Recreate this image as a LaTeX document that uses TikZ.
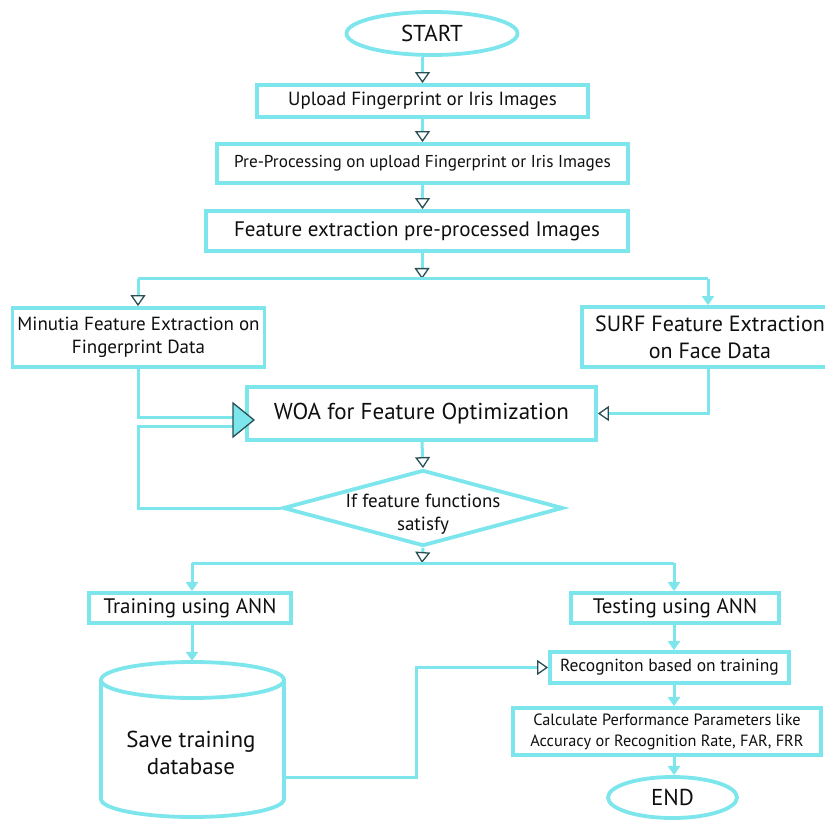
\documentclass[tikz,border=0pt]{standalone}
\usepackage{fontspec}
\setmainfont{PT Sans}
\usetikzlibrary{arrows.meta,shapes.geometric}
\definecolor{cy}{RGB}{124,230,236}
\definecolor{tipc}{RGB}{40,80,85}
\definecolor{txtc}{RGB}{15,15,15}
\newcommand{\fsz}[2]{\fontsize{#1}{#2}\selectfont}
\begin{document}
\begin{tikzpicture}[x=1pt,y=-1pt,
  box/.style={draw=cy, line width=3.8pt, inner sep=0pt, text=txtc, align=center},
  oval/.style={ellipse, draw=cy, line width=3.8pt, inner sep=0pt, text=txtc},
  conn/.style={draw=cy, line width=3pt},
  otip/.style={-{Triangle[length=11pt,width=15pt,color=tipc,fill=white,line width'=1.3pt]}},
  ftip/.style={-{Triangle[length=9pt,width=12pt,color=cy]}},
  lbl/.style={text=txtc, align=center, inner sep=0pt}]
\useasboundingbox (0,0) rectangle (825,821);
\clip (0,0) rectangle (825,821);
% nodes
\node[oval, minimum width=171pt, minimum height=43pt, font=\fsz{23}{27}] (start) at (432,33.5) {START};
\node[box, minimum width=331pt, minimum height=32pt, font=\fsz{19}{23}] (upload) at (422.5,101) {Upload Fingerprint or Iris Images};
\node[box, minimum width=411pt, minimum height=39pt, font=\fsz{17.2}{21}] (prep) at (422.5,163.5) {Pre-Processing on upload Fingerprint or Iris Images};
\node[box, minimum width=422pt, minimum height=40pt, font=\fsz{21}{25}] (feat) at (417,231) {Feature extraction pre-processed Images};
\node[box, minimum width=252pt, minimum height=59pt, font=\fsz{19}{23.5}] (minutia) at (138.5,337.5) {Minutia Feature Extraction on\\Fingerprint Data};
\node[box, minimum width=256pt, minimum height=60pt, font=\fsz{22}{27}] (surf) at (710,337) {SURF Feature Extraction\\on Face Data};
\node[box, minimum width=349pt, minimum height=53pt, font=\fsz{23}{27}] (woa) at (421.5,413.5) {WOA for Feature Optimization};
\node[diamond, draw=cy, line width=3.8pt, inner sep=0pt, minimum width=280pt, minimum height=76pt, aspect=3.7] (dec) at (423,508) {};
\node[lbl, font=\fsz{19}{23.5}] at ([yshift=-6pt]dec.center) {If feature functions\\satisfy};
\node[box, minimum width=202pt, minimum height=30pt, font=\fsz{21}{25}] (training) at (190,608) {Training using ANN};
\node[box, minimum width=208pt, minimum height=30pt, font=\fsz{21}{25}] (testing) at (675,608) {Testing using ANN};
\node[lbl, minimum width=183pt, minimum height=157pt] (db) at (192.5,739.5) {};
\node[box, minimum width=239pt, minimum height=31pt, font=\fsz{17.5}{21}] (recog) at (669.5,667.5) {Recogniton based on training};
\node[box, minimum width=308pt, minimum height=47pt, font=\fsz{16.3}{21}] (calc) at (667,731.5) {Calculate Performance Parameters like\\Accuracy or Recognition Rate, FAR, FRR};
\node[oval, minimum width=129pt, minimum height=41pt, font=\fsz{23}{27}] (end) at (672.5,797.5) {END};
% cylinder
\draw[cy, line width=3.8pt] (101,680) -- (101,799) arc[start angle=180, end angle=360, x radius=91.5, y radius=-18] -- (284,680);
\draw[cy, line width=3.8pt] (192.5,680) ellipse[x radius=91.5, y radius=18];
\node[lbl, font=\fsz{23}{27}] at (191,753) {Save training\\database};
% junction coordinates
\coordinate (j1) at (422,279);
\coordinate (jl) at (138,279);
\coordinate (jr) at (708,279);
\coordinate (j2) at (422,563);
\coordinate (j2l) at (192,563);
\coordinate (j2r) at (674,563);
\coordinate (mleft) at (235,417);
\coordinate (lleft) at (235,426);
\coordinate (loopc) at (138,426);
\coordinate (dbout) at (284,777);
\coordinate (bend) at (416,777);
% connectors
\draw[conn,otip] (upload.north |- start.south) -- (upload.north);
\draw[conn,otip] (upload.south) -- (prep.north);
\draw[conn,otip] (prep.south) -- (prep.south |- feat.north);
\draw[conn,otip] (feat.south -| j1) -- (j1);
\draw[conn] (jl) -- (jr);
\draw[conn,otip] (jl) -- (minutia.north -| jl);
\draw[conn,ftip] (jr) -- (surf.north -| jr);
\draw[conn] (minutia.south -| jl) |- (mleft);
\draw[conn] (dec.west) -- (dec.west -| loopc) -- (loopc) -- (lleft);
\draw[conn,otip] (surf.south -| jr) |- (woa.east);
\draw[conn,otip] (woa.south -| j1) -- (dec.north);
\draw[conn,otip] (dec.south) -- (j2);
\draw[conn] (j2l) -- (j2r);
\draw[conn,ftip] (j2l) -- (training.north -| j2l);
\draw[conn,ftip] (j2r) -- (testing.north -| j2r);
\draw[conn,ftip] (training.south -| j2l) -- (db.north -| j2l);
\draw[conn,otip] (dbout) -- (bend) |- (recog.west);
\draw[conn,ftip] (testing.south -| j2r) -- (recog.north -| j2r);
\draw[conn,ftip] (recog.south -| j2r) -- (calc.north -| j2r);
\draw[conn,ftip] (calc.south -| j2r) -- (end.north -| j2r);
% big arrowhead into WOA
\filldraw[fill=cy, draw=tipc, line width=1.3pt] (233,403) -- (254,420) -- (233,437) -- cycle;
\end{tikzpicture}
\end{document}
